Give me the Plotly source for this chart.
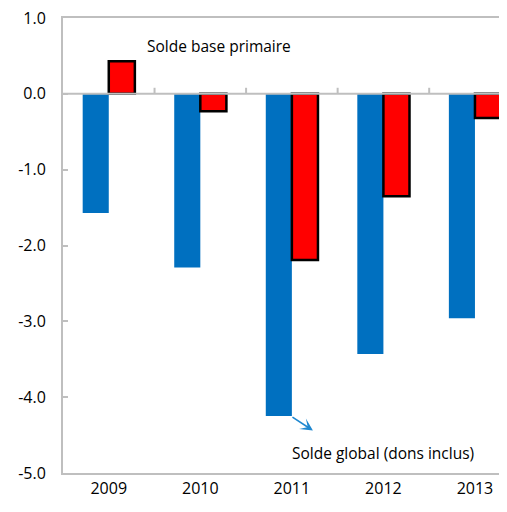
import plotly.graph_objects as go

years = ["2009", "2010", "2011", "2012", "2013"]
solde_global = [-1.57, -2.29, -4.25, -3.43, -2.96]
solde_base_primaire = [0.43, -0.23, -2.19, -1.35, -0.32]
y_ticks = [1.0, 0.0, -1.0, -2.0, -3.0, -4.0, -5.0]
y_tick_labels = ["1.0", "0.0", "-1.0", "-2.0", "-3.0", "-4.0", "-5.0"]

font_family = "Open Sans, Noto Sans, sans-serif"
grey = "#BFBFBF"

fig = go.Figure()
fig.add_trace(go.Bar(x=years, y=solde_global, name="Solde global (dons inclus)",
                     marker=dict(color="#0070C0", line=dict(width=0))))
fig.add_trace(go.Bar(x=years, y=solde_base_primaire, name="Solde base primaire",
                     marker=dict(color="#FF0000", line=dict(color="black", width=2.5))))

# small tick marks on the zero line at category boundaries
shapes = []
for i in range(1, len(years)):
    shapes.append(dict(type="line", xref="x", yref="y", x0=i - 0.5, x1=i - 0.5,
                       y0=0, y1=0.08, line=dict(color=grey, width=2)))
shapes.append(dict(type="line", xref="paper", yref="y", x0=0, x1=1, y0=0, y1=0,
                   line=dict(color=grey, width=2), layer="above"))

fig.update_layout(
    width=499, height=504,
    margin=dict(l=55, r=0, t=10, b=39, autoexpand=False),
    paper_bgcolor="white", plot_bgcolor="white",
    barmode="group", bargap=0.43, bargroupgap=0,
    showlegend=False,
    font=dict(family=font_family, size=16, color="#000000"),
    shapes=shapes,
    annotations=[
        dict(x=1.2, y=0.63, xref="x", yref="y", text="Solde base primaire",
             showarrow=False, xanchor="center", yanchor="middle",
             font=dict(size=15.5, family=font_family, color="#000000")),
        dict(x=3.0, y=-4.73, xref="x", yref="y", text="Solde global (dons inclus)",
             showarrow=False, xanchor="center", yanchor="middle",
             font=dict(size=15.5, family=font_family, color="#000000")),
        dict(x=2.23, y=-4.44, xref="x", yref="y", ax=1.99, ay=solde_global[2],
             axref="x", ayref="y", text="", showarrow=True,
             arrowhead=3, arrowsize=1.3, arrowwidth=1.6, arrowcolor="#1F88D0"),
    ],
)
fig.update_xaxes(
    type="category", range=[-0.5, 4.35], automargin=False,
    showline=True, linecolor=grey, linewidth=2, mirror=True,
    ticks="", showgrid=False, zeroline=False,
    tickfont=dict(size=16, family=font_family),
    ticklabeloverflow="allow",
)
fig.update_yaxes(
    range=[-5, 1], tickvals=y_ticks, ticktext=y_tick_labels, automargin=False,
    showline=True, linecolor=grey, linewidth=2,
    ticks="inside", ticklen=5, tickcolor=grey, tickwidth=2,
    showgrid=False, zeroline=False,
    tickfont=dict(size=16, family=font_family),
    ticklabelstandoff=12, ticklabeloverflow="allow",
)

fig.write_html("out.html")
